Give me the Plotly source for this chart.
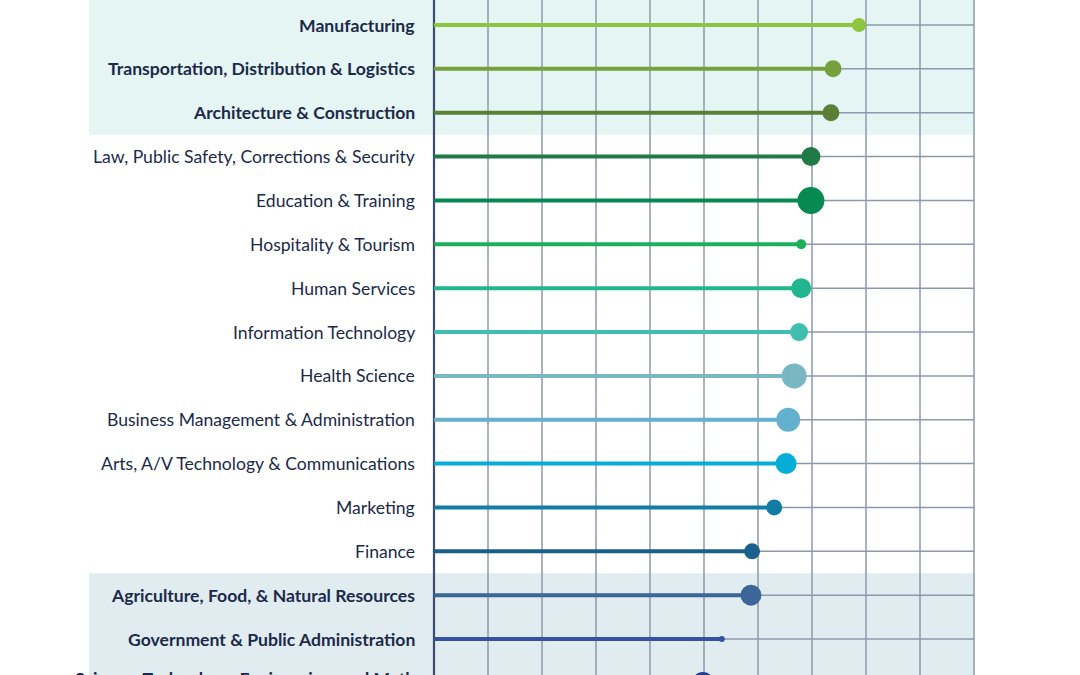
import plotly.graph_objects as go

categories = [
    "Manufacturing",
    "Transportation, Distribution & Logistics",
    "Architecture & Construction",
    "Law, Public Safety, Corrections & Security",
    "Education & Training",
    "Hospitality & Tourism",
    "Human Services",
    "Information Technology",
    "Health Science",
    "Business Management & Administration",
    "Arts, A/V Technology & Communications",
    "Marketing",
    "Finance",
    "Agriculture, Food, & Natural Resources",
    "Government & Public Administration",
    "Science, Technology, Engineering, and Math",
]
values = [7.87, 7.39, 7.35, 6.98, 6.98, 6.80, 6.80, 6.76, 6.67, 6.56, 6.52, 6.30, 5.89, 5.87, 5.33, 4.98]
sizes = [14, 17, 17, 19, 27, 10, 20, 18, 25, 24, 21, 16, 16, 21, 6, 22]
colors = ["#8CC63F", "#76A03C", "#5B7F35", "#1F7A46", "#078A52", "#1DB05C", "#22B68E",
          "#40BFB0", "#79B8C2", "#63B1CF", "#06AED7", "#137CA5", "#1B5F8C", "#3C6598",
          "#3552A0", "#283C93"]
highlight = [True, True, True] + [False] * 10 + [True, True, True]
grid_ticks = list(range(0, 11))

TEXT = "#1B2A4A"
GRID = "#8D98AE"
Y_RANGE = [14.82, -0.57]

fig = go.Figure()
n = len(categories)
ys = list(range(n))

shapes = []
# background bands
shapes.append(dict(type="rect", xref="x", yref="y", x0=-6.39, x1=10, y0=-1, y1=2.5,
                   fillcolor="#E5F5F4", line_width=0, layer="below"))
shapes.append(dict(type="rect", xref="x", yref="y", x0=-6.39, x1=10, y0=12.5, y1=n + 1,
                   fillcolor="#E1ECF0", line_width=0, layer="below"))
# horizontal grid lines per row
for y in ys:
    shapes.append(dict(type="line", xref="x", yref="y", x0=grid_ticks[0], x1=grid_ticks[-1],
                       y0=y, y1=y, line=dict(color=GRID, width=1.5), layer="below"))
# vertical grid lines
for t in grid_ticks:
    shapes.append(dict(type="line", xref="x", yref="y", x0=t, x1=t, y0=-1, y1=n + 1,
                       line=dict(color="#3E4C6E" if t == 0 else GRID, width=2.2 if t == 0 else 1.5),
                       layer="below"))

for y, v, c in zip(ys, values, colors):
    fig.add_trace(go.Scatter(x=[0, v], y=[y, y], mode="lines",
                             line=dict(color=c, width=4), hoverinfo="skip", showlegend=False))

fig.add_trace(go.Scatter(x=values, y=ys, mode="markers",
                         marker=dict(size=sizes, color=colors, line=dict(width=0), opacity=1),
                         text=categories, hovertemplate="%{text}: %{x}<extra></extra>",
                         showlegend=False))

annotations = []
for y, cat, h in zip(ys, categories, highlight):
    label = f"<b>{cat}</b>" if h else cat
    if y > Y_RANGE[0]:
        # row partly below the visible area: anchor inside range, text hangs off the bottom
        annotations.append(dict(x=-0.31, y=Y_RANGE[0] - 0.2, xref="x", yref="y", text=label,
                                showarrow=False, xanchor="right", yanchor="top",
                                font=dict(family="Lato", size=17.6, color=TEXT)))
    else:
        annotations.append(dict(x=-0.31, y=y, xref="x", yref="y", text=label,
                                showarrow=False, xanchor="right", yanchor="middle",
                                font=dict(family="Lato", size=17.6, color=TEXT)))

fig.update_layout(
    width=1080, height=675,
    margin=dict(l=0, r=0, t=0, b=0),
    paper_bgcolor="white", plot_bgcolor="white",
    shapes=shapes, annotations=annotations,
    xaxis=dict(range=[-434 / 54, (1080 - 434) / 54], showgrid=False, zeroline=False,
               showticklabels=False, fixedrange=True),
    yaxis=dict(range=Y_RANGE, showgrid=False, zeroline=False,
               showticklabels=False, fixedrange=True),
)

fig.write_html("out.html", config={"displayModeBar": False},
               post_script="document.body.style.margin='0';document.body.style.overflow='hidden';")
